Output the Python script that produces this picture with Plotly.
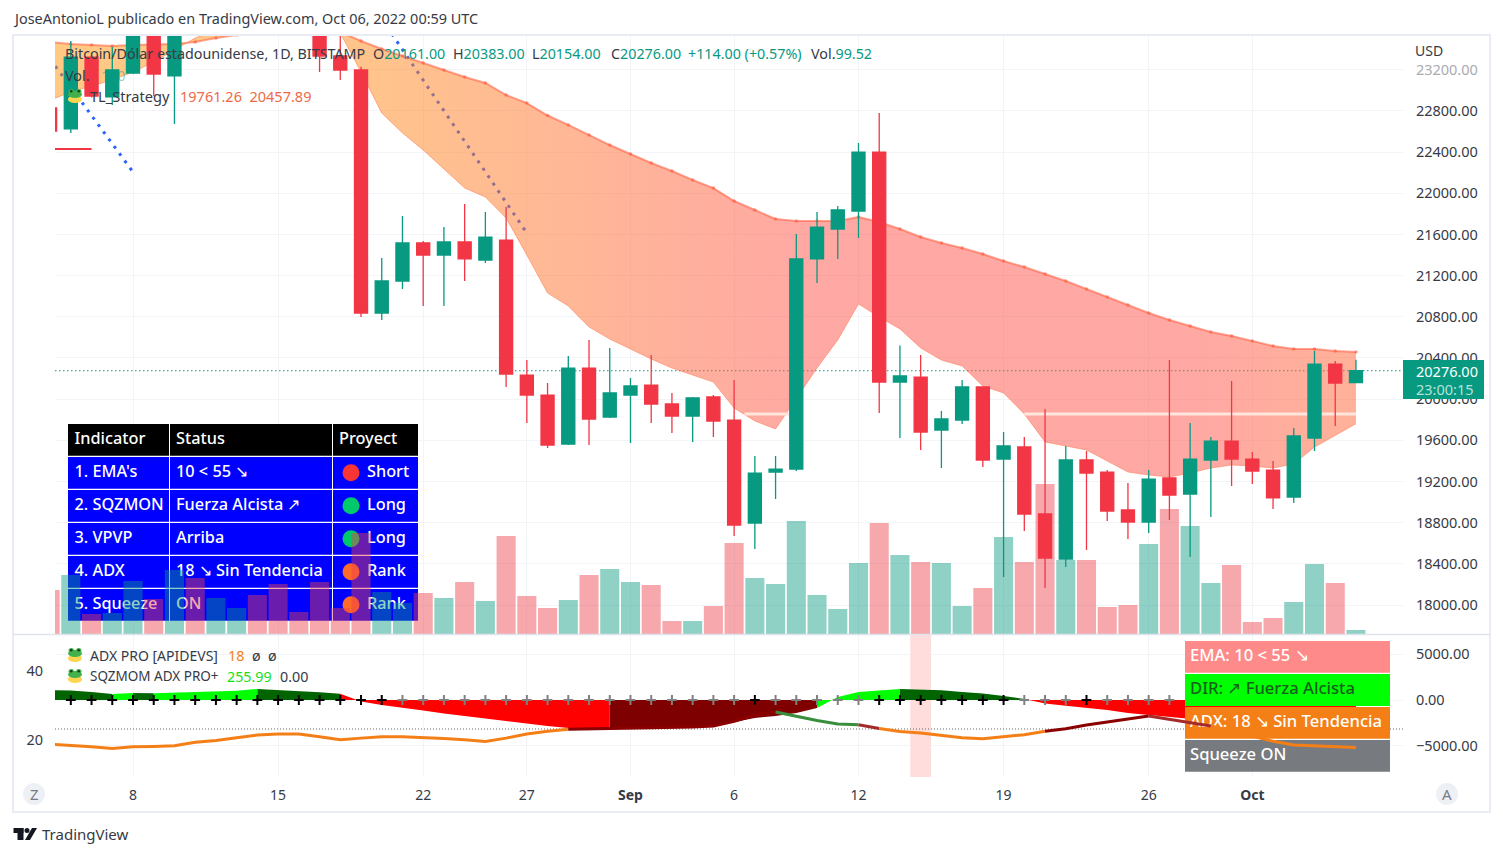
import pandas as pd
import plotly.graph_objects as go

WIDTH = 1503
HEIGHT = 856
FONT = "Noto Sans"

COLOUR_UP = "#089981"
COLOUR_DOWN = "#F23645"
COLOUR_TEXT = "#363A45"
COLOUR_GRID = "#F2F4F8"
COLOUR_BORDER = "#E9ECF2"

DATES = pd.date_range("2022-08-04", periods=64).strftime("%Y-%m-%d").tolist()

OPEN = [
    22829, 22625, 23324, 22936, 23169, 23810, 23140, 23950, 23940, 24400, 24440, 24300, 24100, 23860,
    23334, 23198, 20837, 21148, 21517, 21400, 21527, 21352, 21546, 20234, 20040, 19564, 20302, 19826,
    20040, 20137, 19953, 19836, 20021, 19797, 18797, 19292, 19321, 21362, 21653, 21828, 22401, 20166,
    20215, 19700, 19797, 20118, 19418, 19535, 18884, 18447, 19409, 19292, 18923, 18806, 19234, 19078,
    19409, 19593, 19418, 19311, 19049, 19622, 20341, 20161,
]
HIGH = [
    22906, 23480, 23340, 23421, 24230, 24240, 24140, 24900, 24450, 24890, 25050, 25200, 24240, 24440,
    23600, 23230, 21371, 21779, 21536, 21672, 21896, 21818, 21867, 20380, 20157, 20419, 20575, 20497,
    20205, 20429, 20060, 20021, 20040, 20186, 19447, 19447, 21604, 21818, 21877, 22489, 22780, 20521,
    20429, 19885, 20186, 20125, 19681, 19632, 19904, 19545, 19496, 19311, 19185, 19311, 20380, 19768,
    19632, 20176, 19486, 19399, 19720, 20468, 20370, 20383,
]
LOW = [
    22576, 22586, 22930, 22858, 23160, 22945, 22673, 23880, 23600, 24300, 24150, 23800, 23700, 23178,
    23101, 20798, 20769, 21070, 20905, 20905, 21148, 21323, 20118, 19768, 19525, 19554, 19554, 19817,
    19574, 19768, 19671, 19584, 19632, 18670, 18544, 19030, 19302, 21128, 21362, 21566, 19865, 19622,
    19506, 19331, 19758, 19341, 18272, 18719, 18165, 18369, 18534, 18816, 18641, 18699, 18826, 18466,
    18855, 19156, 19176, 18933, 18991, 19496, 19739, 20154,
]
CLOSE = [
    22605, 23324, 22945, 23198, 23810, 23159, 23950, 23940, 24400, 24440, 24300, 24100, 23860, 23334,
    23198, 20837, 21148, 21517, 21400, 21527, 21362, 21575, 20244, 20040, 19554, 20302, 19807, 20060,
    20128, 19953, 19836, 20011, 19788, 18777, 19282, 19321, 21362, 21672, 21838, 22401, 20166, 20225,
    19681, 19807, 20118, 19409, 19545, 18884, 18456, 19409, 19282, 18913, 18806, 19224, 19069, 19418,
    19593, 19418, 19302, 19040, 19642, 20341, 20157, 20276,
]
VOLUME = [
    1100, 1475, 500, 525, 1325, 875, 1600, 1400, 900, 650, 975, 1250, 550, 1300, 650, 2525, 1050, 775,
    1025, 900, 1300, 825, 2450, 950, 650, 850, 1475, 1625, 1300, 1225, 325, 325, 700, 2275, 1400, 1250,
    2825, 975, 625, 1775, 2775, 1975, 1800, 1775, 700, 1150, 2425, 1800, 3750, 1850, 1850, 675, 725,
    2250, 3125, 2700, 1275, 1725, 300, 400, 800, 1750, 1275, 100,
]

EMA_55 = [
    23470, 23450, 23441, 23431, 23441, 23446, 23450, 23470, 23509, 23538, 23557, 23577, 23587, 23596,
    23567, 23480, 23402, 23334, 23266, 23198, 23130, 23072, 22955, 22877, 22756, 22664, 22566, 22469,
    22382, 22294, 22217, 22129, 22051, 21925, 21838, 21750, 21731, 21731, 21731, 21770, 21721, 21653,
    21575, 21517, 21468, 21410, 21342, 21284, 21216, 21148, 21070, 20992, 20915, 20837, 20769, 20711,
    20652, 20613, 20565, 20516, 20487, 20487, 20468, 20458,
]
EMA_10 = [
    22906, 22984, 23042, 23101, 23178, 23276, 23392, 23509, 23586, 23664, 23732, 23800, 23829, 23781,
    23557, 23178, 22780, 22586, 22421, 22236, 22051, 21964, 21760, 21400, 21031, 20905, 20701, 20584,
    20487, 20390, 20302, 20234, 20166, 19914, 19788, 19710, 20011, 20302, 20575, 20924, 20798, 20682,
    20497, 20380, 20322, 20128, 20060, 19856, 19584, 19545, 19506, 19399, 19292, 19263, 19243, 19282,
    19331, 19360, 19350, 19331, 19370, 19535, 19651, 19761,
]

TREND_LINES = [
    (["2022-08-04", "2022-08-08"], [23305, 22207]),
    (["2022-08-20", "2022-08-27"], [23693, 21614]),
]
RESISTANCE_DATES = ["2022-08-04", "2022-08-06"]
RESISTANCE_PRICE = 22430
VPVP_DATES = ["2022-09-06 12:00", "2022-09-08 18:00", None, "2022-09-20", "2022-10-06"]
VPVP_PRICE = [19856, 19856, None, 19856, 19856]
LAST_PRICE = 20276

DARK_GREEN = "#006400"
LIME = "#00FF00"
RED = "#FF0000"
MAROON = "#7F0000"

MOMENTUM = [
    1090, 1040, 875, 655, 765, 740, 810, 850, 905, 1015, 1200, 1090, 985, 850, 675, -165, -545, -820,
    -1145, -1475, -1745, -2020, -2350, -2620, -2840, -3060, -3110, -3110, -3110, -3090, -3060, -2950,
    -2840, -2400, -1965, -1745, -1420, -875, 330, 875, 1040, 1200, 1145, 1070, 875, 710, 435, 110, -380,
    -620, -820, -1090, -1420, -1640, -1855, -2075, -2300, -2500, -2700, -2800, -2850, -2800, -2600, -2400,
]
MOMENTUM_COLOURS = (
    [DARK_GREEN] * 4 + [LIME] + [DARK_GREEN] + [LIME] * 5 + [DARK_GREEN] * 4 + [RED] * 13
    + [MAROON] * 10 + [LIME] * 4 + [DARK_GREEN] * 6 + [RED] * 16
)
SQUEEZE_DOTS = (
    ["black"] * 17 + ["#808080"] * 17 + ["black"] + ["#808080"] * 5 + ["black"] * 7
    + ["#808080"] * 3 + ["black"] + ["#808080"] * 4
)
SQUEEZE_LEVEL = -3167
HIGHLIGHT_DAY = "2022-09-15"

ADX = [
    18.6, 18.3, 17.9, 17.4, 17.9, 18.0, 18.2, 19.2, 19.7, 20.5, 21.3, 21.6, 21.6, 20.8, 19.9, 20.4,
    20.8, 20.8, 20.6, 20.3, 19.9, 19.4, 20.4, 21.6, 22.4, 23.0, 23.1, 23.1, 23.2, 23.3, 23.5, 23.6,
    23.9, 25.3, 27.0, 28.0, 26.7, 25.5, 24.5, 24.3, 23.2, 22.3, 21.9, 21.1, 20.5, 20.2, 20.7, 21.4,
    22.4, 23.1, 24.2, 25.0, 26.0, 26.8, 25.8, 24.8, 23.9, 22.4, 20.9, 19.5, 18.4, 18.1, 17.9, 17.7,
]
ORANGE = "#F57F17"
DARK_RED = "#8B0000"
FIREBRICK = "#A52A2A"
LINE_GREEN = "#388E3C"
ADX_COLOURS = (
    [ORANGE] * 26 + [DARK_RED] * 10 + [LINE_GREEN] * 4 + [FIREBRICK] + [ORANGE] * 8
    + [DARK_RED] * 5 + [FIREBRICK] * 3 + [ORANGE] * 7
)

PRICE_TICKS = list(range(18000, 23201, 400))
MOMENTUM_TICKS = [5000, 0, -5000]
MOMENTUM_LABELS = ["5000.00", "0.00", "−5000.00"]
ADX_TICKS = [20, 40]
TIME_TICKS = [
    "2022-08-08", "2022-08-15", "2022-08-22", "2022-08-27", "2022-09-01", "2022-09-06",
    "2022-09-12", "2022-09-19", "2022-09-26", "2022-10-01",
]
TIME_LABELS = ["8", "15", "22", "27", "<b>Sep</b>", "6", "12", "19", "26", "<b>Oct</b>"]
TIME_RANGE = ["2022-08-04 05:41", "2022-10-08 06:28"]

TABLE_HEADER = ["Indicator", "Status", "Proyect"]
TABLE_INDICATOR = ["1. EMA's", "2. SQZMON", "3. VPVP", "4. ADX", "5. Squeeze"]
TABLE_STATUS = ["10 < 55 ↘", "Fuerza Alcista ↗", "Arriba", "18 ↘ Sin Tendencia", "ON"]
TABLE_PROJECT = ["Short", "Long", "Long", "Rank", "Rank"]
TABLE_DOTS = ["#F83535", "#00C96B", "#00C96B", "#FF6A2B", "#FF6A2B"]

BOX_TEXT = ["EMA: 10 < 55 ↘", "DIR: ↗ Fuerza Alcista", "ADX: 18 ↘ Sin Tendencia", "Squeeze ON"]
BOX_FILL = ["#FF8A8A", "#00FF00", "#F57F17", "#777A7E"]
BOX_FONT = ["white", "#14611C", "white", "white"]


def px(x):
    return x / WIDTH


def py(y):
    return 1 - y / HEIGHT


def note(fig, text, x, y, size=14.3, colour=COLOUR_TEXT, anchor="left"):
    fig.add_annotation(
        text=text, x=px(x), y=py(y), xref="paper", yref="paper",
        xanchor=anchor, yanchor="middle", showarrow=False,
        font={"family": FONT, "size": size, "color": colour},
        borderpad=0, borderwidth=0,
    )


def cell(fig, x0, x1, y0, y1, colour, xaxis, yaxis):
    fig.add_trace(go.Scatter(
        x=[x0, x1, x1, x0, x0], y=[y0, y0, y1, y1, y0],
        xaxis=xaxis, yaxis=yaxis, mode="lines", line={"width": 0},
        fill="toself", fillcolor=colour,
    ))


def screen_text(fig, labels, xs, ys, colours, size, xaxis, yaxis):
    fig.add_trace(go.Scatter(
        x=xs, y=ys, text=labels, mode="text", textposition="middle right",
        xaxis=xaxis, yaxis=yaxis,
        textfont={"family": FONT, "size": size, "color": colours, "weight": 500},
    ))


def runs(colours):
    # consecutive days of one colour become one piece, joined to the day before
    pieces = []
    start = 0
    for i in range(1, len(colours)):
        if i == len(colours) - 1 or colours[i + 1] != colours[i]:
            pieces.append((start, i, colours[i]))
            start = i
    return pieces


def add_left_table(fig):
    cols = [(68, 169), (170, 332), (333, 418)]
    rows = [(424, 455.7), (457, 488.7), (490, 521.7), (523, 554.7), (556, 587.7), (589, 620.7)]
    text_x = [74.5, 176, 339]

    cell(fig, 68, 418, 424, 620.7, "white", "x", "y")
    for r, (y0, y1) in enumerate(rows):
        for x0, x1 in cols:
            cell(fig, x0, x1, y0, y1, "black" if r == 0 else "#0000FF", "x", "y")

    mids = [(y0 + y1) / 2 for y0, y1 in rows]
    fig.add_trace(go.Scatter(
        x=[351] * 5, y=mids[1:], mode="markers", xaxis="x", yaxis="y",
        marker={"size": 17, "color": TABLE_DOTS, "line": {"width": 0}},
    ))
    screen_text(
        fig, TABLE_HEADER + TABLE_INDICATOR + TABLE_STATUS + TABLE_PROJECT,
        text_x + [text_x[0]] * 5 + [text_x[1]] * 5 + [367] * 5,
        mids[:1] * 3 + mids[1:] * 3, "white", 16.3, "x", "y",
    )


def add_box_table(fig):
    rows = [(641, 672.7), (674, 706), (707, 738.7), (740, 771.7)]
    for (y0, y1), colour in zip(rows, BOX_FILL):
        cell(fig, 1185, 1390, y0, y1, colour, "x3", "y7")
    mids = [(y0 + y1) / 2 for y0, y1 in rows]
    screen_text(fig, BOX_TEXT, [1190] * 4, mids, BOX_FONT, 16.6, "x3", "y7")


def add_volume(fig):
    colours = [
        "rgba(8,153,129,0.45)" if c >= o else "rgba(236,62,72,0.45)"
        for o, c in zip(OPEN, CLOSE)
    ]
    fig.add_trace(go.Bar(
        x=DATES, y=VOLUME, xaxis="x2", yaxis="y2",
        width=0.92 * 86400000, marker={"color": colours, "line": {"width": 0}},
    ))


def add_momentum(fig):
    fig.add_trace(go.Bar(
        x=[HIGHLIGHT_DAY], y=[15500], base=[-8408], xaxis="x2", yaxis="y3",
        width=86400000, marker={"color": "#FFDDDD", "line": {"width": 0}},
    ))
    fig.add_trace(go.Scatter(
        x=TIME_RANGE, y=[SQUEEZE_LEVEL, SQUEEZE_LEVEL], xaxis="x2", yaxis="y3", mode="lines",
        line={"color": "#666666", "width": 1, "dash": "1px,2px"},
    ))
    for first, last, colour in runs(MOMENTUM_COLOURS):
        fig.add_trace(go.Scatter(
            x=DATES[first:last + 1], y=MOMENTUM[first:last + 1],
            xaxis="x2", yaxis="y3", mode="lines",
            line={"width": 0, "color": colour}, fill="tozeroy", fillcolor=colour,
        ))
    fig.add_trace(go.Scatter(
        x=DATES[1:55], y=[0] * 54, xaxis="x2", yaxis="y3", mode="markers",
        marker={
            "symbol": "cross-thin", "size": 7,
            "line": {"width": 2, "color": SQUEEZE_DOTS[1:55]},
        },
    ))


def add_band(fig):
    for dates, prices in TREND_LINES:
        fig.add_trace(go.Scatter(
            x=dates, y=prices, xaxis="x2", yaxis="y4", mode="lines",
            line={"color": "#2962FF", "width": 3, "dash": "3px,6px"},
        ))
    fig.add_trace(go.Scatter(
        x=RESISTANCE_DATES, y=[RESISTANCE_PRICE] * 2, xaxis="x2", yaxis="y4", mode="lines",
        line={"color": COLOUR_DOWN, "width": 2},
    ))
    fig.add_trace(go.Scatter(
        x=TIME_RANGE, y=[LAST_PRICE] * 2, xaxis="x2", yaxis="y4", mode="lines",
        line={"color": COLOUR_UP, "width": 1, "dash": "1.5px,2.5px"},
    ))
    fig.add_trace(go.Scatter(
        x=DATES, y=EMA_55, xaxis="x2", yaxis="y4", mode="lines+markers",
        line={"color": "rgba(255,90,60,0.55)", "width": 2},
        marker={"color": "rgba(255,90,60,0.6)", "size": 3.5},
    ))
    fig.add_trace(go.Scatter(
        x=DATES, y=EMA_10, xaxis="x2", yaxis="y4", mode="lines",
        line={"color": "rgba(255,112,67,0.5)", "width": 1},
        fill="tonexty",
        fillgradient={
            "type": "horizontal",
            "colorscale": [
                [0, "rgba(255,148,10,0.5)"],
                [0.22, "rgba(255,140,20,0.5)"],
                [0.58, "rgba(255,82,72,0.5)"],
                [0.88, "rgba(255,82,72,0.5)"],
                [1, "rgba(255,100,50,0.5)"],
            ],
        },
    ))
    fig.add_trace(go.Scatter(
        x=VPVP_DATES, y=VPVP_PRICE, xaxis="x2", yaxis="y4", mode="lines",
        line={"color": "#FFE6DC", "width": 3},
    ))


def add_candles(fig):
    fig.add_trace(go.Candlestick(
        x=DATES, open=OPEN, high=HIGH, low=LOW, close=CLOSE,
        xaxis="x2", yaxis="y5", whiskerwidth=0,
        increasing={"line": {"color": COLOUR_UP, "width": 1.3}, "fillcolor": COLOUR_UP},
        decreasing={"line": {"color": COLOUR_DOWN, "width": 1.3}, "fillcolor": COLOUR_DOWN},
    ))


def add_adx(fig):
    for first, last, colour in runs(ADX_COLOURS):
        fig.add_trace(go.Scatter(
            x=DATES[first:last + 1], y=ADX[first:last + 1],
            xaxis="x4", yaxis="y6", mode="lines",
            line={"color": colour, "width": 3},
        ))


def frog(fig, x, y):
    ovals = [
        (x - 7, x + 7, y - 0.5, y + 7, "#FFD54F"),
        (x - 7, x + 7, y - 5, y + 2, "#43B14B"),
        (x - 6.5, x - 1, y - 7, y - 2, "#43B14B"),
        (x + 1, x + 6.5, y - 7, y - 2, "#43B14B"),
        (x - 5, x - 2.5, y - 6, y - 3.5, "#123D16"),
        (x + 2.5, x + 5, y - 6, y - 3.5, "#123D16"),
    ]
    for x0, x1, y0, y1, colour in ovals:
        shape(fig, "circle", x0, x1, y0, y1, colour)


def shape(fig, kind, x0, x1, y0, y1, colour, line=None):
    fig.add_shape(
        type=kind, xref="paper", yref="paper",
        x0=px(x0), x1=px(x1), y0=py(y0), y1=py(y1),
        fillcolor=colour, line=line or {"width": 0}, layer="above",
    )


def add_furniture(fig):
    shape(fig, "rect", 13, 1490, 35, 812, "rgba(0,0,0,0)", {"color": COLOUR_BORDER, "width": 2})
    fig.add_shape(
        type="line", xref="paper", yref="paper",
        x0=px(13), x1=px(1490), y0=py(634.5), y1=py(634.5),
        line={"color": "#E0E3EB", "width": 1.5},
    )

    note(fig, "JoseAntonioL publicado en TradingView.com, Oct 06, 2022 00:59 UTC", 13, 19, 14.45)
    note(fig, "USD", 1415, 50, 14)

    shape(fig, "rect", 1403, 1484, 360, 399, COLOUR_UP)
    note(fig, "20276.00", 1416, 371, 14.5, "white")
    note(fig, "23:00:15", 1416, 389, 14.5, "#B5E3DA")

    note(fig, "Bitcoin/Dólar estadounidense, 1D, BITSTAMP", 65, 54)
    quotes = [
        ("O", "20161.00", 373), ("H", "20383.00", 453), ("L", "20154.00", 532), ("C", "20276.00", 611),
    ]
    for letter, value, x in quotes:
        note(fig, f'{letter}<span style="color:{COLOUR_UP}">{value}</span>', x, 54)
    note(fig, "+114.00 (+0.57%)", 688, 54, colour=COLOUR_UP)
    note(fig, f'Vol.<span style="color:{COLOUR_UP}">99.52</span>', 811, 54)
    note(fig, "Vol.", 65, 75)
    note(fig, "100", 101, 75, colour="rgba(8,153,129,0.45)")
    note(fig, "TL_Strategy", 90, 96, 14.6)
    note(fig, "19761.26  20457.89", 180, 96, 14.5, colour="#EE6A45")

    note(fig, "ADX PRO [APIDEVS]", 90, 655, 14)
    note(fig, "18", 228, 655, colour=ORANGE)
    note(fig, "ø  ø", 252, 655)
    note(fig, "SQZMOM ADX PRO+", 90, 676, 13.5)
    note(fig, "255.99", 227, 676, colour="#18E018")
    note(fig, "0.00", 280, 676)
    for x, y in [(75, 96), (75, 655), (75, 676)]:
        frog(fig, x, y)

    shape(fig, "circle", 23, 45, 783, 805, "#EDF0F5")
    shape(fig, "circle", 1436, 1458, 783, 805, "#EDF0F5")
    note(fig, "Z", 34, 794, 15, "#787B86", "center")
    note(fig, "A", 1447, 794, 15, "#787B86", "center")

    # footer logo
    shape(fig, "rect", 13.5, 23.5, 828, 833, "#131722")
    shape(fig, "rect", 17.5, 23.5, 828, 840, "#131722")
    shape(fig, "circle", 24.5, 29.5, 828, 833, "#131722")
    logo = f"M {px(32)} {py(828)} L {px(37)} {py(828)} L {px(30)} {py(840)} L {px(25)} {py(840)} Z"
    fig.add_shape(
        type="path", xref="paper", yref="paper", path=logo,
        fillcolor="#131722", line={"width": 0},
    )
    note(fig, "TradingView", 42, 834, 15)


def update_layout(fig):
    tick_font = {"family": FONT, "size": 14.5, "color": COLOUR_TEXT}
    hidden = {
        "visible": False, "showgrid": False, "zeroline": False, "fixedrange": True,
    }
    y_common = {
        "overlaying": "y", "zeroline": False, "showline": False, "tickfont": tick_font,
        "ticks": "outside", "tickcolor": "rgba(0,0,0,0)", "fixedrange": True,
    }
    price_labels = [f"{p}.00" for p in PRICE_TICKS]
    price_labels[-1] = f'<span style="color:#A9ABB2">{price_labels[-1]}</span>'
    fig.update_layout(
        width=WIDTH, height=HEIGHT, showlegend=False, hovermode=False,
        paper_bgcolor="white", plot_bgcolor="white",
        margin={"l": 0, "r": 0, "t": 0, "b": 0},
        boxgap=0.1, barmode="overlay",
        xaxis={**hidden, "domain": [px(55), px(1403)], "range": [55, 1403], "anchor": "y"},
        yaxis={**hidden, "domain": [py(777), py(35)], "range": [777, 35], "anchor": "x"},
        xaxis2={
            "type": "date", "overlaying": "x", "anchor": "y2", "range": TIME_RANGE,
            "tickmode": "array", "tickvals": TIME_TICKS, "ticktext": TIME_LABELS,
            "tickfont": {**tick_font, "size": 14}, "ticks": "outside", "ticklen": 5,
            "tickcolor": "rgba(0,0,0,0)",
            "showgrid": True, "gridcolor": COLOUR_GRID, "zeroline": False, "showline": False,
            "rangeslider": {"visible": False}, "fixedrange": True,
        },
        xaxis3={**hidden, "overlaying": "x", "range": [55, 1403], "anchor": "y7"},
        xaxis4={**hidden, "overlaying": "x", "range": TIME_RANGE, "type": "date", "anchor": "y6"},
        yaxis2={**hidden, "overlaying": "y", "range": [-3575, 14975], "anchor": "x2"},
        yaxis3={
            **y_common, "side": "right", "anchor": "x2", "range": [-8408, 72618],
            "tickmode": "array", "tickvals": MOMENTUM_TICKS, "ticktext": MOMENTUM_LABELS,
            "ticklen": 9, "showgrid": True, "gridcolor": COLOUR_GRID,
        },
        yaxis4={
            **y_common, "side": "right", "anchor": "x2", "range": [16329, 23538],
            "tickmode": "array", "tickvals": PRICE_TICKS, "ticktext": price_labels,
            "ticklen": 9, "showgrid": True, "gridcolor": COLOUR_GRID,
        },
        yaxis5={**hidden, "overlaying": "y", "range": [16329, 23538], "anchor": "x2"},
        yaxis6={
            **y_common, "side": "left", "anchor": "x4", "range": [9.125, 224.3],
            "tickmode": "array", "tickvals": ADX_TICKS, "ticklen": 8, "showgrid": False,
        },
        yaxis7={**hidden, "overlaying": "y", "range": [777, 35], "anchor": "x3"},
    )


fig = go.Figure()
add_left_table(fig)
add_volume(fig)
add_momentum(fig)
add_band(fig)
add_candles(fig)
add_box_table(fig)
add_adx(fig)
add_furniture(fig)
update_layout(fig)

fig.write_html(
    "out.html", config={"displayModeBar": False},
    post_script="document.body.style.margin='0';",
)
